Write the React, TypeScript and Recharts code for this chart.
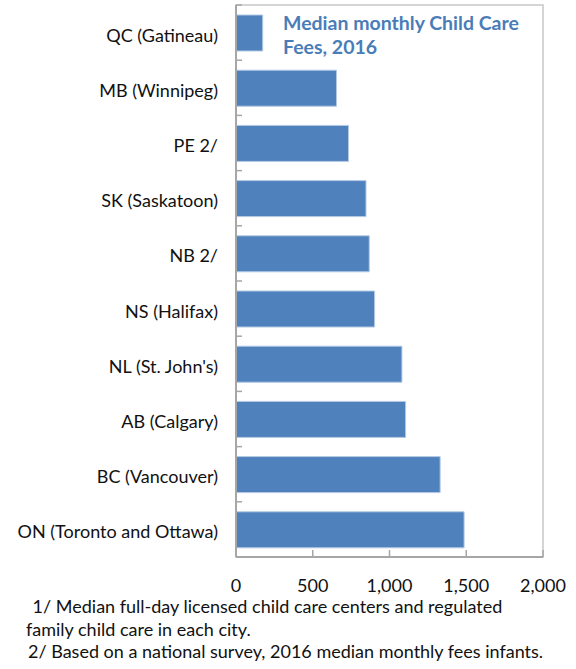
import { Bar, BarChart, ReferenceArea, XAxis, YAxis } from 'recharts';

const categories = [
  'QC (Gatineau)',
  'MB (Winnipeg)',
  'PE 2/',
  'SK (Saskatoon)',
  'NB 2/',
  'NS (Halifax)',
  "NL (St. John's)",
  'AB (Calgary)',
  'BC (Vancouver)',
  'ON (Toronto and Ottawa)',
];
const fees = [174, 655, 733, 847, 868, 903, 1081, 1105, 1330, 1486];
const xTicks = [0, 500, 1000, 1500, 2000];
const titleLines = ['Median monthly Child Care', 'Fees, 2016'];
const footnotes = [
  ' 1/ Median full-day licensed child care centers and regulated',
  'family child care in each city.',
  '2/ Based on a national survey, 2016 median monthly fees infants.',
];

const data = categories.map((name, i) => ({ name, fee: fees[i] }));

const W = 576;
const H = 669;
const margin = { top: 5, right: 33, bottom: 82, left: 0 };
const plotH = H - margin.top - margin.bottom - 30;
const band = plotH / categories.length;
const font = 'Lato, sans-serif';
const axisGray = '#a6a6a6';

function CategoryTick(props: any) {
  const { x, y, payload } = props;
  const top = y - band / 2;
  return (
    <g>
      <text
        x={x}
        y={y + 2}
        textAnchor="end"
        dominantBaseline="central"
        fontFamily={font}
        fontSize={18}
        fill="#111"
      >
        {payload.value}
      </text>
      <line x1={x + 18} x2={x + 24} y1={top} y2={top} stroke={axisGray} strokeWidth={1.5} />
    </g>
  );
}

export default function App() {
  return (
    <div style={{ position: 'absolute', left: 0, top: 0, width: W, height: H, background: '#fff' }}>
      <BarChart width={W} height={H} data={data} layout="vertical" margin={margin}>
        <ReferenceArea x1={0} x2={2000} fill="none" stroke="#c8c8c8" strokeWidth={1.5} />
        <XAxis
          type="number"
          domain={[0, 2000]}
          ticks={xTicks}
          height={30}
          tickFormatter={(v: number) => v.toLocaleString('en-US')}
          axisLine={{ stroke: axisGray, strokeWidth: 2 }}
          tickLine={{ stroke: axisGray, strokeWidth: 1.5 }}
          tickSize={-7}
          tickMargin={29}
          tick={{ fontFamily: font, fontSize: 18, fill: '#111' }}
        />
        <YAxis
          type="category"
          dataKey="name"
          width={236}
          axisLine={{ stroke: axisGray, strokeWidth: 2 }}
          tickLine={false}
          tickSize={0}
          tickMargin={18}
          tick={<CategoryTick />}
          interval={0}
        />
        <Bar
          dataKey="fee"
          barSize={36}
          fill="#4f81bd"
          stroke="#b4c9e4"
          strokeWidth={1}
          isAnimationActive={false}
        />
      </BarChart>
      <svg
        width={W}
        height={H}
        style={{ position: 'absolute', left: 0, top: 0, pointerEvents: 'none' }}
      >
        {titleLines.map((t, i) => (
          <text
            key={t}
            x={283}
            y={30 + i * 24}
            fontFamily={font}
            fontWeight={700}
            fontSize={19.5}
            fill="#4a7db8"
          >
            {t}
          </text>
        ))}
        {footnotes.map((t, i) => (
          <text
            key={t}
            x={i === 1 ? 26 : 28}
            y={613 + i * 22.5}
            fontFamily={font}
            fontSize={18}
            fill="#111"
            style={{ whiteSpace: 'pre' }}
          >
            {t}
          </text>
        ))}
      </svg>
    </div>
  );
}
